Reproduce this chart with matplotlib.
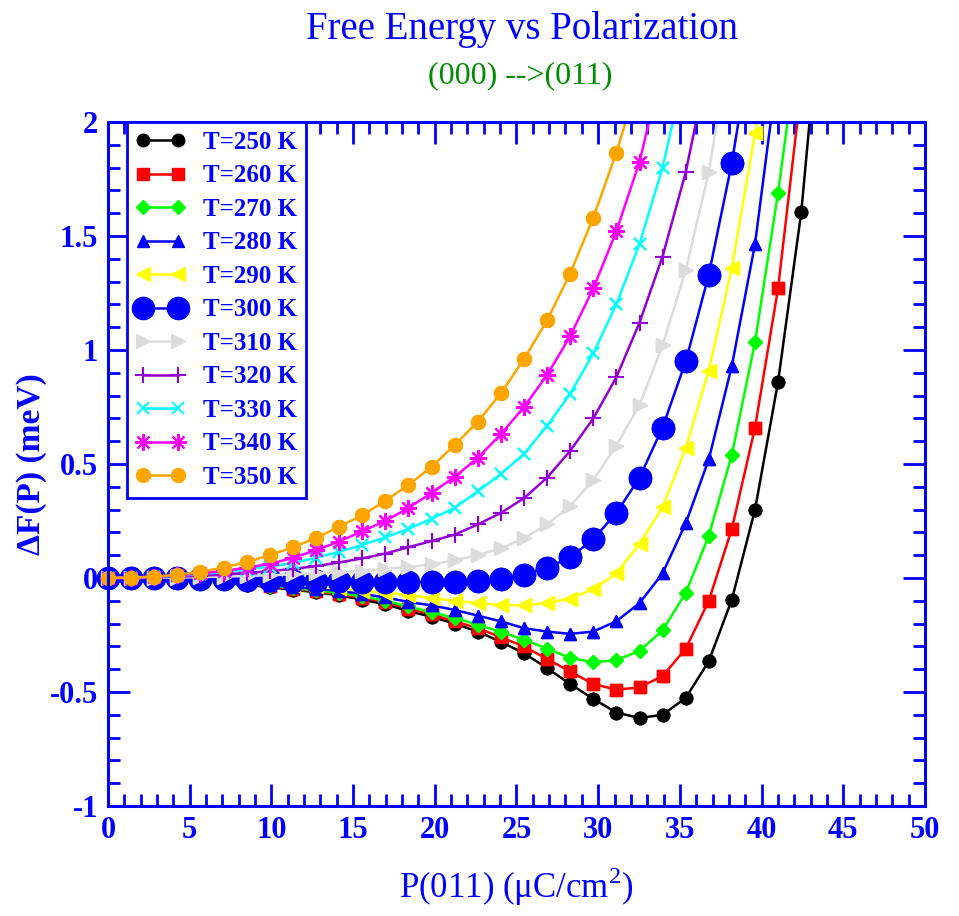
import matplotlib
matplotlib.use("Agg")
from matplotlib import pyplot as plt
from matplotlib.ticker import MultipleLocator, FuncFormatter

plt.rcParams['font.family'] = ['Liberation Serif', 'DejaVu Serif']
plt.rcParams['axes.unicode_minus'] = False
plt.rcParams['mathtext.fontset'] = 'custom'
plt.rcParams['mathtext.rm'] = 'Liberation Serif'

# polarization along (011), uC/cm^2
P = [0, 1.41, 2.83, 4.24, 5.66, 7.07, 8.49, 9.9, 11.31, 12.73, 14.14, 15.56,
     16.97, 18.38, 19.8, 21.21, 22.63, 24.04, 25.46, 26.87, 28.28, 29.7,
     31.11, 32.53, 33.94, 35.36, 36.77, 38.18, 39.6, 41.01, 42.43, 43.84]

temps = [250, 260, 270, 280, 290, 300, 310, 320, 330, 340, 350]

# free energy (meV)
F250 = [0, 0, -0.004, -0.008, -0.013, -0.021, -0.03, -0.04, -0.052, -0.062, -0.076, -0.095,
        -0.115, -0.145, -0.17, -0.2, -0.235, -0.28, -0.33, -0.395, -0.465, -0.53,
        -0.59, -0.614, -0.6, -0.526, -0.365, -0.095, 0.3, 0.86, 1.605, 2.7]
F260 = [0, 0, -0.003, -0.007, -0.012, -0.019, -0.027, -0.037, -0.048, -0.058, -0.071, -0.087,
        -0.105, -0.135, -0.16, -0.19, -0.22, -0.26, -0.3, -0.355, -0.41, -0.465,
        -0.49, -0.48, -0.43, -0.31, -0.1, 0.215, 0.66, 1.27, 2.15]
F270 = [0, 0, -0.003, -0.006, -0.011, -0.017, -0.025, -0.034, -0.044, -0.054, -0.066, -0.08,
        -0.1, -0.125, -0.15, -0.175, -0.205, -0.237, -0.27, -0.31, -0.35, -0.37,
        -0.36, -0.32, -0.23, -0.065, 0.185, 0.54, 1.035, 1.69, 2.45]
F280 = [0, 0, -0.002, -0.005, -0.01, -0.015, -0.022, -0.03, -0.038, -0.047, -0.057, -0.07,
        -0.085, -0.105, -0.12, -0.14, -0.165, -0.19, -0.22, -0.235, -0.245, -0.235,
        -0.19, -0.11, 0.02, 0.24, 0.52, 0.93, 1.465, 2.25]
F290 = [0, 0, -0.002, -0.005, -0.008, -0.012, -0.017, -0.023, -0.03, -0.037, -0.045, -0.055,
        -0.065, -0.075, -0.088, -0.1, -0.11, -0.118, -0.12, -0.11, -0.09, -0.05,
        0.02, 0.15, 0.31, 0.57, 0.91, 1.36, 1.95, 2.6]
F300 = [0, 0, -0.001, -0.002, -0.004, -0.006, -0.008, -0.01, -0.012, -0.013, -0.015, -0.016,
        -0.017, -0.018, -0.018, -0.017, -0.014, -0.005, 0.015, 0.045, 0.09, 0.17,
        0.285, 0.44, 0.66, 0.95, 1.33, 1.82, 2.45]
F310 = [0, 0, 0.001, 0.002, 0.004, 0.006, 0.009, 0.012, 0.016, 0.02, 0.025, 0.032,
        0.04, 0.048, 0.06, 0.078, 0.1, 0.13, 0.175, 0.235, 0.315, 0.43,
        0.58, 0.76, 1.02, 1.35, 1.78, 2.4]
F320 = [0, 0.001, 0.003, 0.006, 0.01, 0.015, 0.022, 0.03, 0.04, 0.052, 0.068, 0.086,
        0.107, 0.135, 0.162, 0.19, 0.235, 0.285, 0.35, 0.44, 0.557, 0.7,
        0.88, 1.12, 1.41, 1.78, 2.27]
F330 = [0, 0.002, 0.005, 0.01, 0.017, 0.026, 0.037, 0.05, 0.066, 0.088, 0.115, 0.145,
        0.178, 0.215, 0.26, 0.307, 0.38, 0.456, 0.544, 0.667, 0.807, 0.985,
        1.2, 1.465, 1.8, 2.25]
F340 = [0, 0.002, 0.006, 0.012, 0.02, 0.031, 0.045, 0.062, 0.088, 0.122, 0.16, 0.205,
        0.25, 0.307, 0.373, 0.443, 0.527, 0.63, 0.75, 0.89, 1.06, 1.27,
        1.52, 1.825, 2.25]
F350 = [0, 0.002, 0.006, 0.014, 0.027, 0.046, 0.07, 0.1, 0.135, 0.175, 0.225, 0.275,
        0.338, 0.408, 0.487, 0.583, 0.685, 0.81, 0.96, 1.13, 1.335, 1.58,
        1.865, 2.2]

series = [F250, F260, F270, F280, F290, F300, F310, F320, F330, F340, F350]

# (color, marker, markersize, markeredgewidth)
styles = [
    ('black', 'o', 9, 1),
    ('red', 's', 8, 1),
    ('lime', 'D', 7, 1),
    ('blue', '^', 9, 1),
    ('yellow', '<', 10, 1),
    ('blue', 'o', 16, 1),
    ('#dcdcdc', '>', 10, 1),
    ('#9400d3', '+', 12, 1.5),
    ('cyan', 'x', 9, 1.5),
    ('magenta', (8, 2, 0), 12, 1.5),
    ('orange', 'o', 10, 1),
]

fig = plt.figure(figsize=(9.59, 9.16), dpi=100)
ax = fig.add_axes([0.1126, 0.1201, 0.8519, 0.7467])

handles = []
for T, F, (c, m, ms, mew) in zip(temps, series, styles):
    x = P[:len(F)]
    h, = ax.plot(x, F, color=c, lw=1.8, marker=m, ms=ms, mew=mew,
                 mec=c, mfc=c, label='T=%d K' % T)
    handles.append(h)
    # markers inside the y range drawn unclipped, like xmgrace
    xs = [a for a, b in zip(x, F) if b <= 2]
    ys = [b for b in F if b <= 2]
    ax.plot(xs, ys, ls='none', marker=m, ms=ms, mew=mew, mec=c, mfc=c,
            clip_on=False)

ax.set_xlim(0, 50)
ax.set_ylim(-1, 2)
ax.xaxis.set_major_locator(MultipleLocator(5))
ax.xaxis.set_minor_locator(MultipleLocator(1))
ax.yaxis.set_major_locator(MultipleLocator(0.5))
ax.yaxis.set_minor_locator(MultipleLocator(0.1))
fmt = FuncFormatter(lambda v, p: '%g' % v)
ax.xaxis.set_major_formatter(fmt)
ax.yaxis.set_major_formatter(fmt)

for s in ax.spines.values():
    s.set_color('blue')
    s.set_linewidth(2.2)
ax.tick_params(which='both', direction='in', top=True, right=True,
               color='blue', width=2, labelcolor='blue')
ax.tick_params(which='major', length=16, labelsize=22, pad=7)
ax.tick_params(which='minor', length=8.5)
for lab in ax.get_xticklabels() + ax.get_yticklabels():
    lab.set_fontweight('bold')

ax.set_xlabel(r'P(011) ($\mathrm{\mu}$C/cm$^{2}$)', color='blue', fontsize=25,
              labelpad=15)
ax.set_ylabel(r'ΔF(P) (meV)', color='blue', fontsize=24, fontweight='bold',
              labelpad=2)

fig.text(0.544, 0.968, 'Free Energy vs Polarization', color='blue',
         fontsize=28, ha='center', va='center')
fig.text(0.542, 0.917, '(000) -->(011)', color='#008b00',
         fontsize=23, ha='center', va='center')

leg = ax.legend(handles=handles, loc='upper left', bbox_to_anchor=(0.023, 1.0),
                borderaxespad=0, numpoints=2, handlelength=2.0,
                handletextpad=0.7, labelspacing=0.42, borderpad=0.35,
                fancybox=False, framealpha=1, edgecolor='blue',
                prop={'weight': 'bold', 'size': 18}, labelcolor='blue')
leg.get_frame().set_linewidth(2)

fig.savefig('out.png', dpi=100)
